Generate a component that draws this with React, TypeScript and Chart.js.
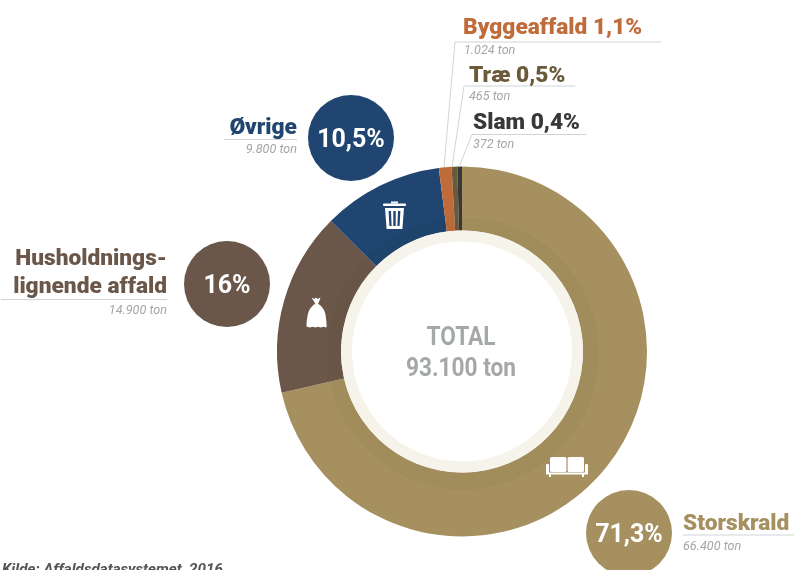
import React, { useEffect, useRef } from "react";
import Chart from "chart.js/auto";

const categories = ["Storskrald", "Husholdningslignende affald", "Øvrige", "Byggeaffald", "Træ", "Slam"];
const tons = [66400, 14900, 9800, 1024, 465, 372];
const colors = ["#a69060", "#6b5749", "#1f4570", "#c06c3a", "#6b5a3a", "#383838"];
const percentLabels = ["71,3%", "16%", "10,5%", "1,1%", "0,5%", "0,4%"];
const tonLabels = ["66.400 ton", "14.900 ton", "9.800 ton", "1.024 ton", "465 ton", "372 ton"];
const totalLabels = ["TOTAL", "93.100 ton"];
const sourceLabel = "Kilde: Affaldsdatasystemet, 2016";

const FONT = "Roboto, sans-serif";
const LINE = "#cfd3d8";

const centerRings = {
  id: "centerRings",
  afterDatasetsDraw(chart: any) {
    const arc = chart.getDatasetMeta(0).data[0];
    const { x, y, innerRadius, outerRadius } = arc;
    const ctx = chart.ctx;
    ctx.save();
    const circle = (r: number, fill: string, dx = 0, dy = 0) => {
      ctx.beginPath();
      ctx.arc(x + dx, y + dy, r, 0, Math.PI * 2);
      ctx.fillStyle = fill;
      ctx.fill();
    };
    ctx.beginPath();
    ctx.arc(x, y, outerRadius, 0, Math.PI * 2);
    ctx.clip();
    circle(innerRadius + 15, "rgba(60,40,10,0.04)", 1, 2);
    circle(innerRadius, "#f5f3ea");
    circle(innerRadius - 11, "#ffffff");
    ctx.restore();
  },
};

function Text({ children, style }: any) {
  return (
    <div style={{ position: "absolute", whiteSpace: "nowrap", fontFamily: FONT, lineHeight: 1, ...style }}>
      {children}
    </div>
  );
}

function Head({ text, color, x, y, right }: any) {
  return (
    <Text
      style={{
        fontSize: 22.7,
        fontWeight: 900,
        color,
        top: y - 11,
        ...(right ? { right: 794 - x } : { left: x }),
      }}
    >
      {text}
    </Text>
  );
}

function Sub({ text, x, y, right }: any) {
  return (
    <Text
      style={{
        fontSize: 12.6,
        fontStyle: "italic",
        color: "#a3a6a8",
        top: y - 6,
        ...(right ? { right: 794 - x } : { left: x }),
      }}
    >
      {text}
    </Text>
  );
}

function Bubble({ text, color, cx, cy }: any) {
  return (
    <div
      style={{
        position: "absolute",
        left: cx - 43,
        top: cy - 43,
        width: 86,
        height: 86,
        borderRadius: "50%",
        background: color,
        color: "#fff",
        fontFamily: FONT,
        fontWeight: 700,
        fontSize: 25,
        display: "flex",
        alignItems: "center",
        justifyContent: "center",
      }}
    >
      {text}
    </div>
  );
}

export default function App() {
  const ref = useRef<HTMLCanvasElement>(null);
  useEffect(() => {
    const chart = new Chart(ref.current!, {
      type: "doughnut",
      data: {
        labels: categories,
        datasets: [{ data: tons, backgroundColor: colors, borderWidth: 0 }],
      },
      options: {
        responsive: false,
        animation: false,
        cutout: "65.4%",
        layout: { padding: { left: 277, right: 147, top: 166.5, bottom: 33.5 } },
        plugins: { legend: { display: false }, tooltip: { enabled: false } },
      },
      plugins: [centerRings],
    });
    return () => chart.destroy();
  }, []);

  return (
    <div style={{ position: "absolute", left: 0, top: 0, width: 794, height: 570, overflow: "hidden", background: "#fff" }}>
      <canvas ref={ref} width={794} height={570} style={{ position: "absolute", left: 0, top: 0, display: "block" }} />
      <svg width={794} height={570} style={{ position: "absolute", left: 0, top: 0 }}>
        <g fill="none" stroke={LINE} strokeWidth={1}>
          <polyline points="444,167 455,42 661,42" />
          <polyline points="452,167 464,86 575,86" />
          <polyline points="459,167 472,134.5 586,134.5" />
          <line x1={224} y1={139.5} x2={297} y2={139.5} />
          <line x1={1} y1={299.5} x2={167} y2={299.5} />
          <line x1={683} y1={535} x2={794} y2={535} />
        </g>
        {/* trash */}
        <g fill="#fff">
          <rect x={383} y={203.5} width={23} height={2.5} rx={1} />
          <rect x={391} y={201.5} width={7} height={2} />
          <path
            fillRule="evenodd"
            d="M385 208h19l-1.6 21h-15.8zM388.6 211l.8 15h2.2l-.6-15zM393.3 211v15h2.4v-15zM398 211l-.6 15h2.2l.8-15z"
          />
        </g>
        {/* bag */}
        <path
          fill="#fff"
          d="M311.5 297.5l3 1.6 1.5-1.6 1.5 1.6 3-1.6-1.5 4.5-1 1.6c4 3 6.5 6 7.5 11 .7 4 1 8 1.2 12l-.7.8-2.6-.6-2.7.6-2.7-.6-2.7.6-2.7-.6-2.7.6-2.7-.6-.8-.2c.2-4.5.6-8.5 1.4-12 1-5 3.5-8 7.5-11l-1-1.6z"
        />
        {/* sofa */}
        <g fill="#fff">
          <rect x={550} y={457} width={16.4} height={15} rx={1.5} />
          <rect x={567.6} y={457} width={16.4} height={15} rx={1.5} />
          <rect x={546} y={464} width={3} height={10} rx={1} />
          <rect x={585} y={464} width={3} height={10} rx={1} />
          <rect x={546} y={472.5} width={42} height={2} />
          <rect x={549} y={474} width={2} height={3} />
          <rect x={582} y={474} width={2} height={3} />
        </g>
      </svg>

      <Head text={`${categories[3]} ${percentLabels[3]}`} color={colors[3]} x={463} y={27} />
      <Sub text={tonLabels[3]} x={464} y={50} />
      <Head text={`${categories[4]} ${percentLabels[4]}`} color={colors[4]} x={469} y={74.5} />
      <Sub text={tonLabels[4]} x={469} y={96} />
      <Head text={`${categories[5]} ${percentLabels[5]}`} color={colors[5]} x={473} y={122} />
      <Sub text={tonLabels[5]} x={473} y={144} />

      <Head text={categories[2]} color={colors[2]} x={297} y={127} right />
      <Sub text={tonLabels[2]} x={297} y={149} right />
      <Bubble text={percentLabels[2]} color={colors[2]} cx={351} cy={138} />

      <Head text="Husholdnings-" color={colors[1]} x={167} y={258} right />
      <Head text="lignende affald" color={colors[1]} x={167} y={286} right />
      <Sub text={tonLabels[1]} x={167} y={310} right />
      <Bubble text={percentLabels[1]} color={colors[1]} cx={227} cy={284} />

      <Bubble text={percentLabels[0]} color={colors[0]} cx={629} cy={533} />
      <Head text={categories[0]} color={colors[0]} x={683} y={523} />
      <Sub text={tonLabels[0]} x={683} y={546} />

      {totalLabels.map((t, i) => (
        <Text
          key={t}
          style={{
            left: 361,
            width: 200,
            textAlign: "center",
            top: 323 + i * 31,
            fontSize: 26,
            fontWeight: 700,
            color: "#a5a8a8",
            transform: "scaleX(0.87)",
          }}
        >
          {t}
        </Text>
      ))}
      <Text style={{ left: 2, top: 562, fontSize: 15.2, fontWeight: 700, fontStyle: "italic", color: "#555" }}>
        {sourceLabel}
      </Text>
    </div>
  );
}
